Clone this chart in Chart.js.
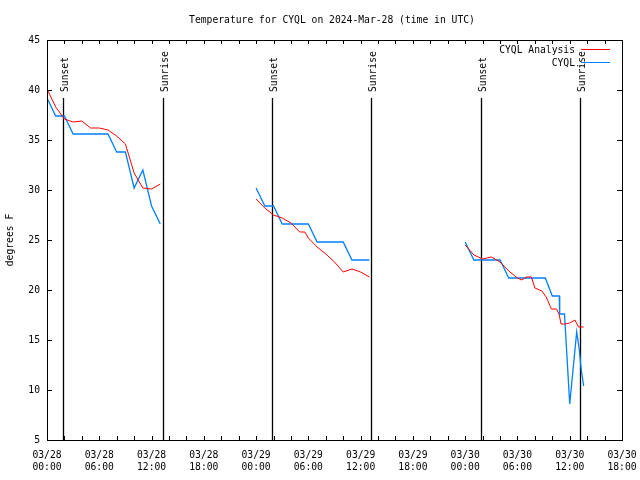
<!DOCTYPE html>
<html>
<head>
<meta charset="utf-8">
<script src="https://cdn.jsdelivr.net/npm/chart.js@4/dist/chart.umd.min.js"></script>
<style>
html,body{margin:0;padding:0;background:#fff;}
#wrap{width:640px;height:480px;}
</style>
</head>
<body>
<div id="wrap"><canvas id="c" width="640" height="480"></canvas></div>
<script>
// ---- data (x = hours since 03/28 00:00 UTC) ----
const titleText = 'Temperature for CYQL on 2024-Mar-28 (time in UTC)';
const yTitle = 'degrees F';
const seriesNames = ['CYQL Analysis', 'CYQL'];

const analysisHours = [0,1,2,3,4,5,6,7,8,9,10,11,12,13, null,
  24,25,26,27,28,29,29.6,30,31,32,33,34,35,36,37, null,
  48,49,50,51,52,53,54,54.5,55,55.6,56,56.8,57.3,57.9,58.5,58.8,59,59.5,60,60.6,61,61.6];
const analysisTemps = [40.1,38.3,37.1,36.8,36.9,36.2,36.2,36.0,35.4,34.6,31.7,30.2,30.1,30.6, null,
  29.1,28.2,27.5,27.2,26.7,25.8,25.8,25.2,24.3,23.6,22.8,21.8,22.1,21.8,21.3, null,
  24.5,23.5,23.1,23.3,22.8,21.9,21.2,21.0,21.3,21.3,20.2,19.9,19.3,18.1,18.1,17.5,16.6,16.6,16.7,17.0,16.3,16.3];

const obsHours = [0,1,2,3,4,5,6,7,8,9,10,11,12,13, null,
  24,25,26,27,28,29,30,31,32,33,34,35,36,37, null,
  48,49,50,51,52,53,54,55,56,57.2,58,58.8,58.85,59.4,60,60.8,61.1,61.3,61.6];
const obsTemps = [39.2,37.4,37.4,35.6,35.6,35.6,35.6,35.6,33.8,33.8,30.2,32.0,28.4,26.6, null,
  30.2,28.4,28.4,26.6,26.6,26.6,26.6,24.8,24.8,24.8,24.8,23.0,23.0,23.0, null,
  24.8,23.0,23.0,23.0,23.0,21.2,21.2,21.2,21.2,21.2,19.4,19.4,17.6,17.6,8.6,15.8,14.0,12.2,10.4];

const sunsetHours = [1.79, 25.78, 49.85];
const sunriseHours = [13.27, 37.19, 61.18];

const xTickHours = [0,6,12,18,24,30,36,42,48,54,60,66];
const xTickDates = ['03/28','03/28','03/28','03/28','03/29','03/29','03/29','03/29','03/30','03/30','03/30','03/30'];
const xTickTimes = ['00:00','06:00','12:00','18:00','00:00','06:00','12:00','18:00','00:00','06:00','12:00','18:00'];
const yTicks = [5,10,15,20,25,30,35,40,45];

const colors = ['#ff0000', '#0080ff'];
const FONT = '"DejaVu Sans Mono", "Liberation Mono", monospace';
const FS = 9.7;

function toPoints(xs, ys){
  return xs.map((x,i)=> (x===null ? {x: NaN, y: null} : {x: x, y: ys[i]}));
}

const overlay = {
  id: 'overlay',
  beforeDatasetsDraw(chart){
    const ctx = chart.ctx, a = chart.chartArea;
    const xs = chart.scales.x, ys = chart.scales.y;
    ctx.save();
    ctx.strokeStyle = '#000';
    ctx.lineWidth = 1;
    ctx.beginPath();
    for (let h = 0; h <= 66; h += 2){
      const px = Math.round(xs.getPixelForValue(h)) + 0.5;
      ctx.moveTo(px, a.bottom); ctx.lineTo(px, a.bottom - 4);
      ctx.moveTo(px, a.top); ctx.lineTo(px, a.top + 4);
    }
    yTicks.forEach(v=>{
      const py = Math.round(ys.getPixelForValue(v)) + 0.5;
      ctx.moveTo(a.left, py); ctx.lineTo(a.left + 5, py);
      ctx.moveTo(a.right, py); ctx.lineTo(a.right - 5, py);
    });
    ctx.stroke();
    ctx.font = FS + 'px ' + FONT;
    ctx.fillStyle = '#000';
    const marks = [];
    sunsetHours.forEach(h=>marks.push([h,'Sunset']));
    sunriseHours.forEach(h=>marks.push([h,'Sunrise']));
    marks.forEach(([h,label])=>{
      const px = Math.round(xs.getPixelForValue(h)) + 0.5;
      ctx.beginPath();
      ctx.moveTo(px, a.top + 58);
      ctx.lineTo(px, a.bottom);
      ctx.lineWidth = 1.3;
      ctx.stroke();
      ctx.save();
      ctx.translate(px + 2, a.top + 52);
      ctx.rotate(-Math.PI/2);
      ctx.textAlign = 'left';
      ctx.textBaseline = 'middle';
      ctx.fillText(label, 0, 0);
      ctx.restore();
    });
    ctx.restore();
  },
  afterDraw(chart){
    const ctx = chart.ctx, a = chart.chartArea;
    ctx.save();
    ctx.strokeStyle = '#000';
    ctx.lineWidth = 1;
    ctx.strokeRect(Math.round(a.left)+0.5, Math.round(a.top)+0.5, Math.round(a.right-a.left), Math.round(a.bottom-a.top));
    ctx.font = FS + 'px ' + FONT;
    ctx.fillStyle = '#000';
    ctx.textAlign = 'center';
    ctx.textBaseline = 'middle';
    ctx.fillText(titleText, 332, 20);
    ctx.save();
    ctx.translate(10, 240);
    ctx.rotate(-Math.PI/2);
    ctx.fillText(yTitle, 0, 0);
    ctx.restore();
    ctx.textAlign = 'right';
    seriesNames.forEach((n,i)=>{
      const y = 50 + i*13;
      ctx.fillStyle = '#000';
      ctx.fillText(n, 575, y);
      ctx.strokeStyle = colors[i];
      ctx.beginPath();
      ctx.moveTo(581, y - 0.5);
      ctx.lineTo(610, y - 0.5);
      ctx.stroke();
    });
    ctx.restore();
  }
};

new Chart(document.getElementById('c'), {
  type: 'line',
  data: {
    datasets: [
      { label: seriesNames[0], data: toPoints(analysisHours, analysisTemps), borderColor: colors[0], borderWidth: 1, pointRadius: 0, tension: 0, spanGaps: false, fill: false },
      { label: seriesNames[1], data: toPoints(obsHours, obsTemps), borderColor: colors[1], borderWidth: 1.3, pointRadius: 0, tension: 0, spanGaps: false, fill: false }
    ]
  },
  options: {
    responsive: false,
    animation: false,
    devicePixelRatio: 1,
    layout: { padding: { left: 0, right: 18, top: 40, bottom: 0 } },
    plugins: { legend: { display: false }, title: { display: false }, tooltip: { enabled: false } },
    scales: {
      x: {
        type: 'linear', min: 0, max: 66,
        afterBuildTicks(scale){ scale.ticks = xTickHours.map(v=>({value: v})); },
        afterFit(scale){ scale.height = 40; scale.paddingLeft = 0; scale.paddingRight = 0; },
        grid: { display: false, drawTicks: false },
        border: { display: false },
        ticks: {
          autoSkip: false, maxRotation: 0, minRotation: 0, padding: 9, color: '#000',
          font: { family: FONT, size: FS, lineHeight: 1.24 },
          callback(v){ const i = xTickHours.indexOf(v); return i < 0 ? '' : [xTickDates[i], xTickTimes[i]]; }
        }
      },
      y: {
        type: 'linear', min: 5, max: 45,
        afterBuildTicks(scale){ scale.ticks = yTicks.map(v=>({value: v})); },
        afterFit(scale){ scale.width = 47; scale.paddingTop = 0; scale.paddingBottom = 0; },
        grid: { display: false, drawTicks: false },
        border: { display: false },
        ticks: { padding: 7, color: '#000', font: { family: FONT, size: FS } }
      }
    }
  },
  plugins: [overlay]
});
</script>
</body>
</html>
